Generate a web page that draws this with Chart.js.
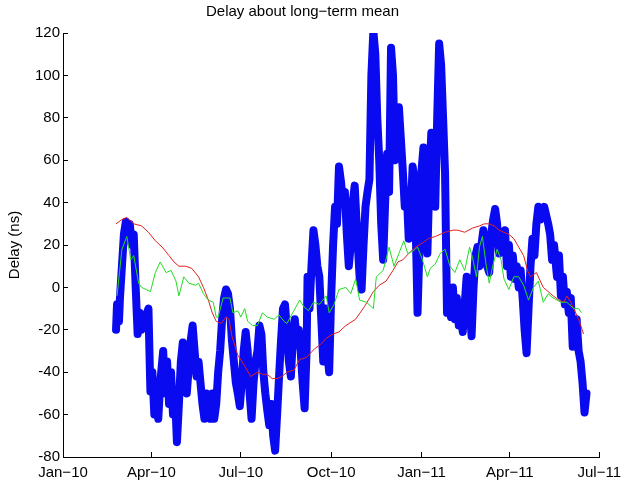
<!DOCTYPE html>
<html>
<head>
<meta charset="utf-8">
<script src="https://cdn.jsdelivr.net/npm/chart.js@4.4.1/dist/chart.umd.min.js"></script>
<style>
  body { margin: 0; background: #fff; }
  #wrap { width: 633px; height: 485px; }
</style>
</head>
<body>
<div id="wrap"><canvas id="delayChart" width="633" height="485"></canvas></div>
<script>
// x values are days since 1 Jan 2010
const tickDays = [0, 90, 181, 273, 365, 455, 546];
const tickLabels = ["Jan\u221210", "Apr\u221210", "Jul\u221210", "Oct\u221210", "Jan\u221211", "Apr\u221211", "Jul\u221211"];

// thick blue: measured delay [day, ns]
const blueDelay = [
  [54,-20],[55,-8],[57,-16],[58,-5],[60,10],[62,25],[64,31],[66,26],[68,30],[70,20],[72,25],[74,0],[76,-22],[78,-12],[80,-20],
  [87,-10],[88,-30],[89,-49],[91,-40],[93,-60],[95,-50],[97,-62],[99,-45],[102,-30],[104,-50],[106,-35],[108,-55],[110,-40],
  [112,-60],[114,-50],[116,-73],[118,-55],[120,-35],[122,-26],[124,-40],[126,-50],[128,-38],[130,-25],[132,-18],[134,-30],
  [136,-42],[138,-35],[140,-45],[142,-55],[144,-62],[146,-50],[148,-56],[150,-62],[152,-50],[154,-62],[156,-55],[158,-40],
  [160,-30],[162,-15],[164,-5],[166,-1],[168,-3],[170,-10],[172,-25],[174,-35],[176,-45],[178,-50],[180,-56],[182,-45],
  [184,-30],[186,-21],[188,-30],[190,-50],[192,-62],[194,-45],[196,-35],[198,-30],[200,-18],[202,-22],[204,-40],[206,-50],
  [208,-58],[210,-65],[212,-55],[214,-70],[216,-77],[218,-60],[220,-42],[222,-25],[224,-10],[226,-8],[228,-20],[230,-35],
  [232,-42],[234,-25],[236,-15],[238,-25],[240,-20],[242,-30],[244,-45],[246,-57],[248,-30],[249,5],[251,-10],[253,10],
  [255,27],[257,20],[259,10],[261,5],[263,-15],[265,-35],[267,-10],[269,-30],[271,-40],[273,-5],[275,20],[277,38],[279,30],
  [281,57],[283,50],[285,40],[287,45],[289,25],[291,10],[293,20],[295,40],[297,48],[299,30],[302,5],[304,-1],[306,20],
  [308,38],[310,45],[312,51],[314,100],[316,121],[318,110],[320,80],[322,60],[324,30],[326,13],[328,40],[330,63],[332,45],
  [334,113],[336,100],[338,60],[340,66],[342,85],[344,70],[346,55],[348,38],[350,45],[352,23],[354,35],[356,57],[358,50],
  [360,10],[361,-12],[363,20],[365,55],[367,66],[369,40],[371,16],[373,50],[375,73],[377,60],[379,38],[381,80],[383,115],
  [385,105],[387,80],[389,54],[391,-12],[393,-5],[395,-14],[397,0],[399,-15],[401,-5],[403,-18],[405,-10],[407,-21],
  [409,-8],[411,5],[413,-9],[415,-15],[416,-23],[418,0],[420,15],[422,19],[424,10],[426,20],[428,27],[430,20],[432,10],
  [434,7],[436,25],[438,32],[440,37],[442,30],[444,16],[446,25],[448,20],[450,27],[452,10],[454,20],[456,5],[458,15],
  [460,4],[462,10],[464,0],[466,8],[468,-5],[470,-20],[472,-31],[474,-10],[476,10],[478,23],[480,15],[482,30],[484,38],
  [486,32],[488,36],[490,38],[492,34],[494,30],[496,25],[498,13],[500,20],[503,5],[505,15],[507,-4],[509,5],[511,-8],
  [513,-2],[515,-12],[517,-5],[519,-28],[521,-20],[523,-15],[525,-30],[527,-35],[529,-45],[531,-59],[533,-50]
];

// thin red: slow trend [day, ns]
const redDelay = [
  [54,30],[60,32],[65,33],[72,30],[80,29],[87,26],[94,22],[101,19],[108,15],[113,12],[118,10],[125,10],[131,9],[138,5],
  [143,0],[148,-6],[152,-12],[156,-16],[161,-17],[166,-14],[169,-15],[172,-23],[178,-32],[185,-37],[191,-42],[198,-40],
  [203,-41],[208,-41],[213,-43],[218,-43],[223,-42],[228,-40],[235,-39],[241,-34],[248,-33],[256,-29],[262,-27],[268,-24],
  [275,-22],[281,-21],[288,-18],[298,-15],[307,-9],[316,-2],[322,1],[329,3],[336,8],[341,12],[346,13],[352,16],[359,19],
  [366,21],[372,23],[379,24],[389,26],[397,27],[402,27],[409,26],[417,28],[424,29],[429,30],[434,30],[439,29],[444,27],
  [449,26],[454,25],[459,23],[464,19],[469,15],[473,8],[476,5],[479,6],[482,7],[486,3],[489,0],[494,-2],[499,-4],[505,-6],
  [510,-7],[513,-4],[517,-7],[520,-10],[525,-15],[530,-22]
];

// thin green: medium-term average [day, ns]
const greenDelay = [
  [55,-4],[60,18],[65,24],[69,13],[72,15],[77,2],[80,0],[89,-2],[94,7],[99,12],[105,7],[110,8],[115,3],[118,-4],[123,5],
  [128,2],[135,1],[138,2],[143,-3],[148,-6],[153,-7],[156,-14],[158,-14],[163,-5],[170,-5],[173,-12],[178,-11],[181,-14],
  [185,-10],[188,-16],[193,-18],[198,-18],[203,-12],[208,-14],[215,-15],[220,-13],[225,-16],[228,-17],[235,-11],[241,-6],
  [245,-9],[250,-11],[255,-7],[261,-8],[268,-4],[271,-12],[276,-8],[281,-1],[288,0],[293,-3],[298,4],[302,-6],[309,-7],
  [316,-10],[319,5],[326,8],[332,19],[337,10],[342,16],[347,22],[351,16],[356,17],[361,19],[366,13],[371,5],[374,9],
  [379,11],[384,16],[389,18],[394,10],[399,7],[404,13],[409,8],[414,19],[417,14],[421,5],[424,19],[427,24],[431,10],
  [434,2],[437,9],[442,18],[446,13],[449,4],[454,-1],[459,5],[464,5],[469,1],[474,-6],[479,0],[484,3],[489,-7],[494,-3],
  [499,-5],[507,-7],[513,-7],[520,-10],[525,-10],[528,-12]
];

const yTicks = { min: -80, max: 120, step: 20 };

function toPoints(arr) {
  return arr.map(function (p) { return { x: p[0], y: p[1] }; });
}

const font = { family: "'Liberation Sans', Arial, sans-serif", size: 15 };

new Chart(document.getElementById("delayChart").getContext("2d"), {
  type: "line",
  data: {
    datasets: [
      { label: "green", data: toPoints(greenDelay), borderColor: "#22dd22", borderWidth: 1, pointRadius: 0, tension: 0 },
      { label: "red", data: toPoints(redDelay), borderColor: "#e02020", borderWidth: 1, pointRadius: 0, tension: 0 },
      { label: "blue", data: toPoints(blueDelay), borderColor: "#0a0af0", borderWidth: 8, pointRadius: 0, tension: 0,
        borderJoinStyle: "round", borderCapStyle: "round" }
    ]
  },
  options: {
    responsive: false,
    animation: false,
    layout: { padding: { left: 0, right: 28, top: 0, bottom: 0 } },
    plugins: {
      legend: { display: false },
      tooltip: { enabled: false },
      title: {
        display: true,
        text: "Delay about long\u2212term mean",
        color: "#000",
        font: { family: font.family, size: 15, weight: "normal" },
        padding: { top: 3, bottom: 12 }
      }
    },
    scales: {
      x: {
        type: "linear",
        min: tickDays[0],
        max: tickDays[tickDays.length - 1],
        afterBuildTicks: function (scale) {
          scale.ticks = tickDays.map(function (d) { return { value: d }; });
        },
        afterFit: function (scale) { scale.height = 28; },
        grid: { drawOnChartArea: false, drawTicks: true, tickLength: -5, color: "#000" },
        border: { display: true, color: "#000", width: 1 },
        ticks: {
          autoSkip: false, maxRotation: 0, padding: 12, color: "#000", font: font,
          callback: function (v) { return tickLabels[tickDays.indexOf(v)]; }
        }
      },
      y: {
        min: yTicks.min,
        max: yTicks.max,
        afterFit: function (scale) { scale.width = 63; scale.paddingTop = 0; scale.paddingBottom = 0; },
        grid: { drawOnChartArea: false, drawTicks: true, tickLength: -5, color: "#000" },
        border: { display: true, color: "#000", width: 1 },
        ticks: { stepSize: yTicks.step, padding: 8, color: "#000", font: font },
        title: { display: true, text: "Delay (ns)", color: "#000", font: font, padding: { top: 6, bottom: 0 } }
      }
    }
  }
});
</script>
</body>
</html>
